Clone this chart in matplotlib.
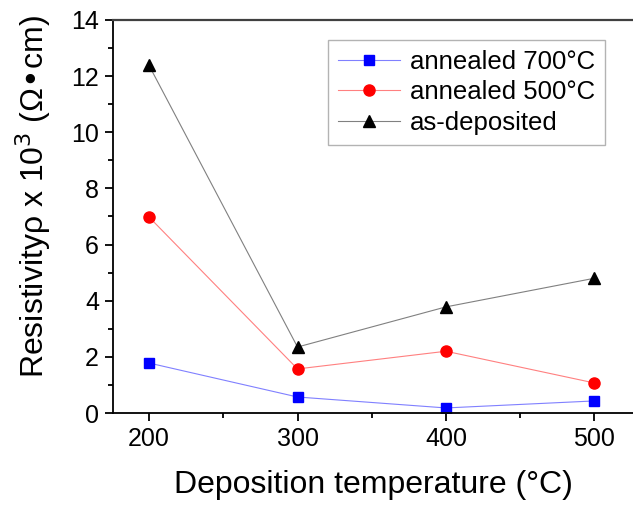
import matplotlib.pyplot as plt
from matplotlib.ticker import MultipleLocator

plt.rcParams['font.family'] = ['Liberation Sans', 'DejaVu Sans']

temps = [200, 300, 400, 500]
annealed_700 = [1.78, 0.57, 0.18, 0.43]
annealed_500 = [6.98, 1.57, 2.20, 1.07]
as_deposited = [12.38, 2.35, 3.78, 4.80]

fig = plt.figure(figsize=(6.33, 5.07), dpi=100)
ax = fig.add_axes([0.1785, 0.1854, 0.8215, 0.7752])

ax.plot(temps, annealed_700, color='#8080ff', lw=0.8, marker='s', ms=7,
        mfc='#0000ff', mec='#0000ff', label='annealed 700°C')
ax.plot(temps, annealed_500, color='#ff8080', lw=0.8, marker='o', ms=8,
        mfc='#ff0000', mec='#ff0000', label='annealed 500°C')
ax.plot(temps, as_deposited, color='#808080', lw=0.8, marker='^', ms=8.5,
        mfc='black', mec='black', label='as-deposited')

ax.set_xlim(175.7, 526)
ax.set_ylim(0, 14)
ax.xaxis.set_major_locator(MultipleLocator(100))
ax.xaxis.set_minor_locator(MultipleLocator(50))
ax.yaxis.set_major_locator(MultipleLocator(2))
ax.yaxis.set_minor_locator(MultipleLocator(1))
ax.tick_params(which='major', direction='out', length=6, width=1.3, labelsize=18, pad=4)
ax.tick_params(which='minor', direction='out', length=3.5, width=1.3)
ax.tick_params(top=False, right=False)

ax.spines['right'].set_visible(False)
ax.spines['left'].set_linewidth(1.3)
ax.spines['bottom'].set_linewidth(1.3)
ax.spines['top'].set_linewidth(1.6)
ax.spines['top'].set_color('#404040')

ax.set_xlabel('Deposition temperature (°C)', fontsize=23, labelpad=14)
ax.set_ylabel('Resistivityρ x 10$^{3}$ (Ω•cm)', fontsize=23)
ax.yaxis.set_label_coords(-0.115, 0.55)

leg = ax.legend(loc='upper right', bbox_to_anchor=(0.947, 0.95), fontsize=18.5,
                frameon=True, fancybox=False, edgecolor='#a0a0a0',
                handlelength=2.4, handletextpad=0.4, borderpad=0.4,
                labelspacing=0.25, borderaxespad=0)
leg.get_frame().set_linewidth(1.0)

fig.savefig('out.png', dpi=100)
